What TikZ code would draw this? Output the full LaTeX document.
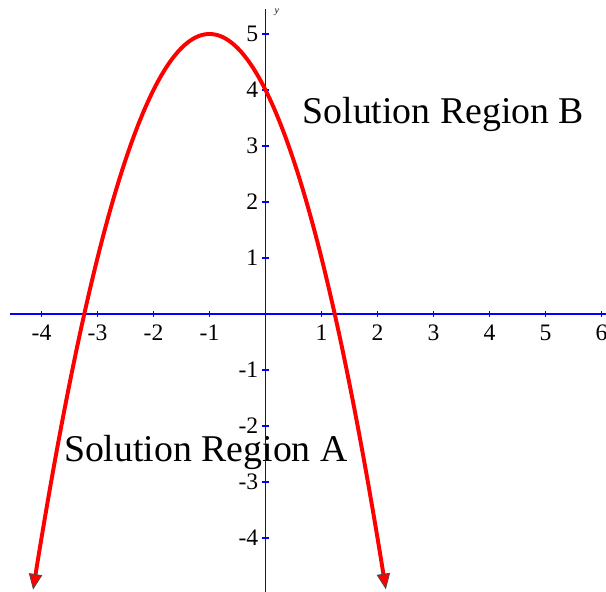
\documentclass[tikz,border=0pt]{standalone}
\usepackage{fontspec}
\setmainfont{Liberation Serif}
\usetikzlibrary{arrows.meta}

\tikzset{
  axis/.style={blue, line width=0.8pt},
  tick/.style={blue, line width=0.6pt},
  xnum/.style={below=0.13cm, inner sep=0pt, text=black, font=\fontsize{12}{14}\selectfont},
  ynum/.style={left=0.06cm, inner sep=0pt, text=black, font=\fontsize{12}{14}\selectfont},
  region/.style={anchor=base, inner sep=0pt, font=\fontsize{19.2}{23}\selectfont},
  parabtip/.tip={Triangle[length=0.28cm, width=0.24cm, color=black!70, fill=red, line width=0.4pt]},
  curve/.style={red, line width=2pt, parabtip-parabtip},
}

\begin{document}
\begin{tikzpicture}
            \useasboundingbox (-4.741,-4.964) rectangle (6.080,5.607);

            % Region labels
            \node[region] (regB) at (3.175, 3.405) {Solution Region B};
            \node[region] (regA) at (-1.066, -2.638) {Solution Region A};

            % Axes
            \coordinate (xleft) at (-4.56, 0);
            \coordinate (xright) at (6.08, 0);
            \coordinate (ytop) at (0, 5.45);
            \coordinate (ybottom) at (0, -4.964);
            \draw[axis] (xleft) -- (xright);
            \draw[axis] (ybottom) -- (ytop);
            \node[inner sep=0pt, font=\fontsize{5}{6}\selectfont\itshape] (ylab) at (0.2, 5.39) {y};

            % Ticks on x
            \draw[tick] (-4, 0.06) -- (-4, -0.06) node[xnum] (xm4) {-4};
            \draw[tick] (-3, 0.06) -- (-3, -0.06) node[xnum] (xm3) {-3};
            \draw[tick] (-2, 0.06) -- (-2, -0.06) node[xnum] (xm2) {-2};
            \draw[tick] (-1, 0.06) -- (-1, -0.06) node[xnum] (xm1) {-1};
            \draw[tick] (1, 0.06) -- (1, -0.06) node[xnum] (x1) {1};
            \draw[tick] (2, 0.06) -- (2, -0.06) node[xnum] (x2) {2};
            \draw[tick] (3, 0.06) -- (3, -0.06) node[xnum] (x3) {3};
            \draw[tick] (4, 0.06) -- (4, -0.06) node[xnum] (x4) {4};
            \draw[tick] (5, 0.06) -- (5, -0.06) node[xnum] (x5) {5};
            \draw[tick] (6, 0.06) -- (6, -0.06) node[xnum] (x6) {6};

            % Ticks on y
            \draw[tick] (0.06, 5) -- (-0.06, 5) node[ynum] (y5) {5};
            \draw[tick] (0.06, 4) -- (-0.06, 4) node[ynum] (y4) {4};
            \draw[tick] (0.06, 3) -- (-0.06, 3) node[ynum] (y3) {3};
            \draw[tick] (0.06, 2) -- (-0.06, 2) node[ynum] (y2) {2};
            \draw[tick] (0.06, 1) -- (-0.06, 1) node[ynum] (y1) {1};
            \draw[tick] (0.06, -1) -- (-0.06, -1) node[ynum] (ym1) {-1};
            \draw[tick] (0.06, -2) -- (-0.06, -2) node[ynum] (ym2) {-2};
            \draw[tick] (0.06, -3) -- (-0.06, -3) node[ynum] (ym3) {-3};
            \draw[tick] (0.06, -4) -- (-0.06, -4) node[ynum] (ym4) {-4};

            % Parabola
            \draw[curve] plot[domain=-4.15:2.15, samples=120, smooth] (\x, {5-(\x+1)^2});
\end{tikzpicture}
\end{document}
